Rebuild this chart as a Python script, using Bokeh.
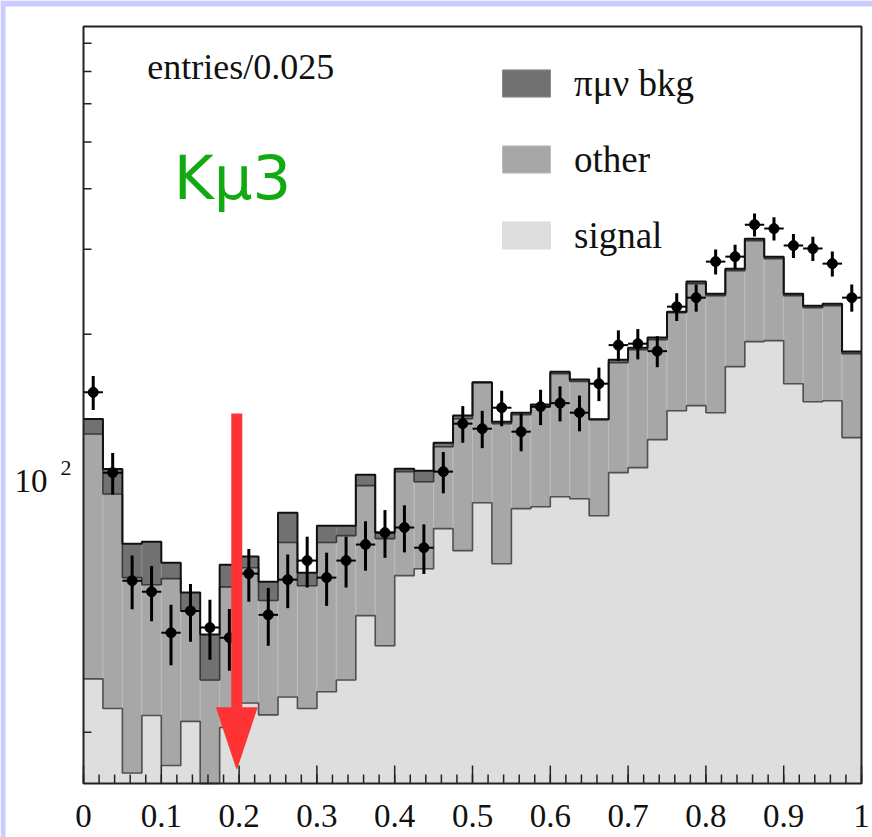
import numpy as np
from bokeh.plotting import figure
from bokeh.models import Legend, LegendItem, Label
from bokeh.embed import file_html
from bokeh.resources import INLINE

# ---- binning -------------------------------------------------------------
bin_width = 0.025
n_bins = 40
bin_edges = np.round(np.arange(n_bins + 1) * bin_width, 4)
bin_lo = bin_edges[:-1]
bin_hi = bin_edges[1:]
bin_centers = bin_lo + bin_width / 2

# ---- Monte Carlo components (entries per bin) ----------------------------
signal = [38.7, 33.6, 24.7, 32.5, 25.6, 31.6, 21.0, 30.7, 34.5, 32.6,
          35.5, 33.6, 36.4, 38.5, 52.3, 45.3, 63.3, 65.4, 79.2, 71.3,
          89.6, 67.0, 87.1, 87.9, 92.2, 91.3, 84.2, 103.4, 105.9, 121.0,
          138.9, 142.3, 137.6, 171.4, 193.1, 194.0, 158.0, 145.0, 145.7, 122.2]
other = [85.6, 59.8, 38.0, 28.1, 36.8, 21.9, 17.5, 29.3, 31.2, 23.6,
         38.6, 26.7, 37.7, 38.1, 44.9, 30.2, 40.6, 33.6, 37.8, 62.4,
         69.2, 63.6, 49.2, 53.7, 73.5, 68.3, 48.9, 71.3, 79.9, 73.9,
         82.8, 112.2, 102.8, 99.4, 119.4, 92.8, 82.4, 82.0, 83.5, 60.1]
pimunu_bkg = [9.3, 11.8, 11.0, 13.8, 4.9, 4.9, 9.3, 6.7, 3.6, 5.3,
              11.3, 3.9, 6.2, 3.7, 5.2, 2.2, 1.5, 5.4, 2.3, 2.0,
              0.3, 1.2, 1.3, 1.4, 1.6, 1.5, 0.2, 2.5, 1.8, 1.9,
              1.0, 2.5, 2.3, 2.6, 2.9, 2.7, 2.3, 2.2, 2.2, 1.8]

# ---- data -----------------------------------------------------------------
data_counts = [151.6, 103.4, 61.8, 58.6, 48.2, 53.5, 49.4, 47.1, 63.9, 52.5,
               62.1, 68.0, 62.7, 68.0, 73.4, 77.7, 79.6, 72.3, 103.9, 130.6,
               127.5, 140.9, 125.7, 141.6, 144.0, 137.6, 158.0, 189.9, 191.2, 184.5,
               228.1, 238.1, 282.7, 289.5, 337.2, 330.9, 305.1, 300.8, 280.0, 238.1]
data_errors = [12.3, 10.2, 7.9, 7.7, 6.9, 7.3, 7.0, 6.9, 8.0, 7.2,
               7.9, 8.2, 7.9, 8.2, 8.6, 8.8, 8.9, 8.5, 10.2, 11.4,
               11.3, 11.9, 11.2, 11.9, 12.0, 11.7, 12.6, 13.8, 13.8, 13.6,
               15.1, 15.4, 16.8, 17.0, 18.4, 18.2, 17.5, 17.3, 16.7, 15.4]

# ---- axes ticks -----------------------------------------------------------
x_ticks = [0, 0.1, 0.2, 0.3, 0.4, 0.5, 0.6, 0.7, 0.8, 0.9, 1]
x_tick_labels = ["0", "0.1", "0.2", "0.3", "0.4", "0.5", "0.6", "0.7", "0.8", "0.9", "1"]
x_minor_ticks = [round(0.02 * i, 2) for i in range(51)]
y_ticks = [100]
y_minor_ticks = [30, 40, 50, 60, 70, 80, 90, 200, 300, 400, 500, 600, 700, 800]

# ---- annotations ----------------------------------------------------------
cut_x = 0.197
arrow_top, arrow_head_base, arrow_tip = 137.0, 33.7, 25.2
arrow_head_half = 0.026

# ---- colours / fonts ------------------------------------------------------
c_bkg = "#717171"
c_other = "#a7a7a7"
c_signal = "#dedede"
c_axis = "#222222"
c_page = "#ccccff"
serif = "'Liberation Serif'"

# ---- page geometry (pixels) and the plotted window -------------------------
canvas_w, canvas_h = 872, 837
frame_left, frame_right, frame_top, frame_bottom = 83, 861, 26, 783
x_lo, x_hi = 0.0, 1.0
y_lo, y_hi = 23.5, 867.0
px_per_x = (frame_right - frame_left) / (x_hi - x_lo)
dec_per_px = np.log10(y_hi / y_lo) / (frame_bottom - frame_top)


def x_at(px):
    return float(x_lo + (px - frame_left) / px_per_x)


def y_at(py):
    return float(10 ** (np.log10(y_lo) + (frame_bottom - py) * dec_per_px))


def y_up(v, npx):
    return float(v * 10 ** (npx * dec_per_px))


sig = np.maximum(np.array(signal), y_lo)
mid = np.array(signal) + np.array(other)
tot = mid + np.array(pimunu_bkg)

p = figure(width=canvas_w, height=canvas_h, y_axis_type="log",
           x_range=(x_at(0), x_at(canvas_w)), y_range=(y_at(canvas_h), y_at(0)),
           x_axis_location=None, y_axis_location=None,
           output_backend="svg", toolbar_location=None, min_border=0)
p.min_border_left = p.min_border_right = p.min_border_top = p.min_border_bottom = 0
p.title.visible = False
p.grid.visible = False
p.background_fill_color = "white"
p.border_fill_color = "white"
p.outline_line_color = None

# signal band, then the y ticks (the upper bands hide them), then the rest
r_sig = p.quad(left=bin_lo, right=bin_hi, bottom=y_lo, top=sig,
               fill_color=c_signal, line_color=c_signal, line_width=1)

p.segment(x0=[x_lo] * len(y_ticks), y0=y_ticks,
          x1=[x_at(frame_left + 16)] * len(y_ticks), y1=y_ticks,
          line_color=c_axis, line_width=1.5)
p.segment(x0=[x_lo] * len(y_minor_ticks), y0=y_minor_ticks,
          x1=[x_at(frame_left + 8)] * len(y_minor_ticks), y1=y_minor_ticks,
          line_color=c_axis, line_width=1.5)

r_mid = p.quad(left=bin_lo, right=bin_hi, bottom=sig, top=mid,
               fill_color=c_other, line_color="#bcbcbc", line_width=1)
r_tot = p.quad(left=bin_lo, right=bin_hi, bottom=mid, top=tot,
               fill_color=c_bkg, line_color="#8a8a8a", line_width=1)

# histogram outlines
step_x = list(bin_edges)
p.step(step_x, list(sig) + [sig[-1]], mode="after", line_color="#505050", line_width=1.6)
p.step(step_x, list(mid) + [mid[-1]], mode="after", line_color="#3a3a3a", line_width=1.6)
p.step(step_x, list(tot) + [tot[-1]], mode="after", line_color="#111111", line_width=2)

# data points with errors
d = np.array(data_counts)
e = np.array(data_errors)
p.segment(x0=bin_centers, y0=d - e, x1=bin_centers, y1=d + e,
          line_color="black", line_width=3)
p.segment(x0=bin_lo, y0=d, x1=bin_hi, y1=d, line_color="black", line_width=2)
p.scatter(x=bin_centers, y=d, size=10, color="black")

# cut arrow
p.segment(x0=[cut_x], y0=[arrow_top], x1=[cut_x], y1=[arrow_head_base],
          line_color="#ff3333", line_width=11)
p.patch(x=[cut_x - arrow_head_half, cut_x + arrow_head_half, cut_x],
        y=[arrow_head_base, arrow_head_base, arrow_tip],
        fill_color="#ff3333", line_color="#ff3333", line_width=1)

# x ticks (pointing into the frame) and the frame box
p.segment(x0=x_ticks, y0=[y_lo] * len(x_ticks), x1=x_ticks,
          y1=[y_up(y_lo, 18)] * len(x_ticks), line_color=c_axis, line_width=1.5)
p.segment(x0=x_minor_ticks, y0=[y_lo] * len(x_minor_ticks), x1=x_minor_ticks,
          y1=[y_up(y_lo, 9)] * len(x_minor_ticks), line_color=c_axis, line_width=1.5)
p.quad(left=[x_lo], right=[x_hi], bottom=[y_lo], top=[y_hi],
       fill_color=None, line_color=c_axis, line_width=2)

# tick labels
for xv, txt in zip(x_ticks, x_tick_labels):
    p.add_layout(Label(x=xv, y=y_at(815.5), text=txt, text_font=serif,
                       text_font_size="33px", text_color="#111111",
                       text_align="center", text_baseline="alphabetic"))
p.add_layout(Label(x=x_at(47), y=y_at(480.5), text="10", text_font=serif,
                   text_font_size="33px", text_color="#111111",
                   text_align="right", text_baseline="alphabetic"))
p.add_layout(Label(x=x_at(60), y=y_at(467), text="2", text_font=serif,
                   text_font_size="22px", text_color="#111111",
                   text_align="left", text_baseline="alphabetic"))

# legend
legend = Legend(items=[LegendItem(label="\u03c0\u03bc\u03bd bkg", renderers=[r_tot]),
                       LegendItem(label="other", renderers=[r_mid]),
                       LegendItem(label="signal", renderers=[r_sig])],
                location=(496, 580), orientation="vertical",
                glyph_width=60, glyph_height=34, label_height=44,
                spacing=32, padding=0, margin=0, label_standoff=18,
                label_text_font=serif, label_text_font_size="37px",
                label_text_color="#111111",
                border_line_alpha=0, background_fill_alpha=0)
p.add_layout(legend, "center")

p.add_layout(Label(x=0.082, y=715, text="entries/0.025",
                   text_font=serif, text_font_size="36px",
                   text_color="#111111", text_baseline="alphabetic"))
p.add_layout(Label(x=0.116, y=422, text="K\u03bc3",
                   text_font="DejaVu Sans", text_font_size="61px",
                   text_color="#11aa11", text_baseline="alphabetic"))

# lavender page edge along the top and left
p.quad(left=[x_at(0)], right=[x_at(5)], bottom=[y_at(canvas_h)], top=[y_at(0)],
       fill_color=c_page, line_color=None)
p.quad(left=[x_at(0)], right=[x_at(canvas_w)], bottom=[y_at(6)], top=[y_at(0)],
       fill_color=c_page, line_color=None)

open("out.html", "w").write(file_html(p, INLINE))
